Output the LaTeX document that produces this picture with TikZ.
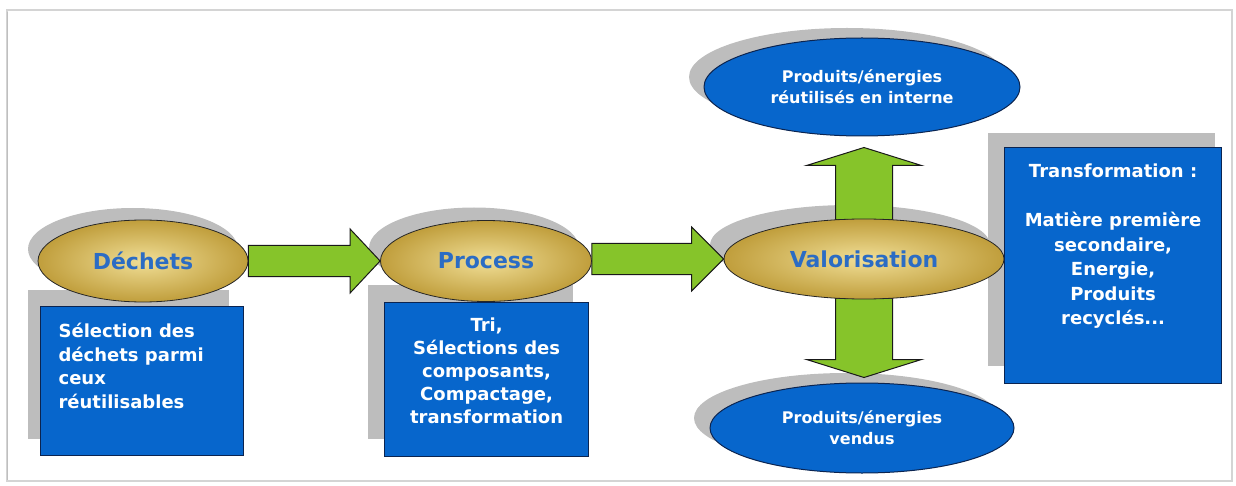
\documentclass[tikz,border=0pt]{standalone}
\usepackage{fontspec}
\setmainfont{DejaVu Sans}
\usetikzlibrary{shapes.geometric,calc}
\definecolor{boxblue}{HTML}{0766CC}
\definecolor{edgeblue}{HTML}{0B2450}
\definecolor{titleblue}{HTML}{2B6CC4}
\definecolor{goldin}{HTML}{F0DE96}
\definecolor{goldout}{HTML}{C09E3C}
\definecolor{arrowgreen}{HTML}{86C42A}
\definecolor{shadowgray}{HTML}{BDBDBD}
\definecolor{framegray}{HTML}{D4D4D4}
\pgfdeclarelayer{back}
\pgfdeclarelayer{mid}
\pgfsetlayers{back,mid,main}
\begin{document}
\begin{tikzpicture}[x=1pt,y=-1pt,
  goldell/.style={ellipse, draw=black!85, line width=0.8pt, inner sep=0pt,
    shading=radial, inner color=goldin, outer color=goldout,
    font=\fontsize{22}{26}\selectfont\bfseries, text=titleblue},
  blueell/.style={ellipse, draw=edgeblue, line width=1pt, inner sep=0pt,
    fill=boxblue, text=white, align=center,
    font=\fontsize{16}{21}\selectfont\bfseries},
  bluebox/.style={rectangle, draw=edgeblue, line width=1.2pt, inner sep=0pt,
    fill=boxblue, text=white, font=\fontsize{18}{23.5}\selectfont\bfseries},
  shadowfill/.style={fill=shadowgray},
  garrow/.style={fill=arrowgreen, draw=black!90, line width=1pt, line join=miter}
]
\useasboundingbox (0,0) rectangle (1236,486);

% ellipses
\node[goldell, minimum width=210pt, minimum height=82pt] (dech) at (143,261) {Déchets};
\node[goldell, minimum width=211pt, minimum height=81pt] (proc) at (486,261) {Process};
\node[goldell, minimum width=280pt, minimum height=80pt] (val) at (864,259) {Valorisation};
\node[blueell, minimum width=316pt, minimum height=98pt] (top) at (862,87) {Produits/énergies\\réutilisés en interne};
\node[blueell, minimum width=304pt, minimum height=90pt] (bot) at (862,428) {Produits/énergies\\vendus};

% boxes
\node[bluebox, anchor=north west] (dbox) at (40,306)
  {\parbox[t][149pt][t]{203pt}{\raggedright\leftskip=18pt\rule{0pt}{31pt}Sélection des\\déchets parmi\\ceux\\réutilisables}};
\node[bluebox, anchor=north west, font=\fontsize{18}{23}\selectfont\bfseries] (pbox) at (384,302)
  {\parbox[t][154pt][t]{204pt}{\centering\rule{0pt}{29pt}Tri,\\Sélections des\\composants,\\Compactage,\\transformation}};
\node[bluebox, anchor=north west, font=\fontsize{18}{24.5}\selectfont\bfseries] (tbox) at (1004,147)
  {\parbox[t][236pt][t]{217pt}{\centering\rule{0pt}{30pt}Transformation :\\[24.5pt]Matière première\\secondaire,\\Energie,\\Produits\\recyclés...}};

% frame and shadows
\begin{pgfonlayer}{back}
  \draw[framegray, line width=1.5pt] (7,10) rectangle (1232,481);
  \draw[black!25, line width=0.8pt] (7.5,12) -- (7.5,480);
  \fill[shadowfill] ($(dech.center)+(-10,-12)$) ellipse [x radius=105, y radius=41];
  \fill[shadowfill] ($(proc.center)+(-12,-13)$) ellipse [x radius=105, y radius=40.5];
  \fill[shadowfill] ($(val.center)+(-14,-14)$) ellipse [x radius=140, y radius=40];
  \fill[shadowfill] ($(top.center)+(-15,-10)$) ellipse [x radius=158, y radius=49];
  \fill[shadowfill] ($(bot.center)+(-16,-10)$) ellipse [x radius=152, y radius=45];
  \fill[shadowfill] ($(dbox.north west)+(-12,-16)$) rectangle ($(dbox.south east)+(-15,-17)$);
  \fill[shadowfill] ($(pbox.north west)+(-16,-17)$) rectangle ($(pbox.south east)+(-16,-18)$);
  \fill[shadowfill] ($(tbox.north west)+(-16,-14)$) rectangle ($(tbox.south east)+(-7,-18)$);
\end{pgfonlayer}

% arrows
\begin{pgfonlayer}{mid}
  \draw[garrow] ($(dech.east)+(0,-15.5)$) -- ($(proc.west)+(-30,-15.5)$)
    -- ($(proc.west)+(-30,-32)$) -- (proc.west) -- ($(proc.west)+(-30,32)$)
    -- ($(proc.west)+(-30,15.5)$) -- ($(dech.east)+(0,15.5)$) -- cycle;
  \coordinate (p2) at (proc.east |- val.west);
  \draw[garrow] ($(p2)+(0,-15.5)$) -- ($(val.west)+(-32,-15.5)$)
    -- ($(val.west)+(-32,-32)$) -- (val.west) -- ($(val.west)+(-32,32)$)
    -- ($(val.west)+(-32,15.5)$) -- ($(p2)+(0,15.5)$) -- cycle;
  \coordinate (uptip) at ($(val.north |- top.south)+(0,11)$);
  \coordinate (dntip) at ($(val.south |- bot.north)+(0,-5)$);
  \draw[garrow] ($(val.north)+(-28.5,1)$) -- ($(uptip)+(-28.5,18)$)
    -- ($(uptip)+(-57.5,18)$) -- (uptip) -- ($(uptip)+(57.5,18)$)
    -- ($(uptip)+(28.5,18)$) -- ($(val.north)+(28.5,1)$) -- cycle;
  \draw[garrow] ($(val.south)+(-28.5,-1)$) -- ($(dntip)+(-28.5,-18)$)
    -- ($(dntip)+(-57.5,-18)$) -- (dntip) -- ($(dntip)+(57.5,-18)$)
    -- ($(dntip)+(28.5,-18)$) -- ($(val.south)+(28.5,-1)$) -- cycle;
\end{pgfonlayer}
\end{tikzpicture}
\end{document}
